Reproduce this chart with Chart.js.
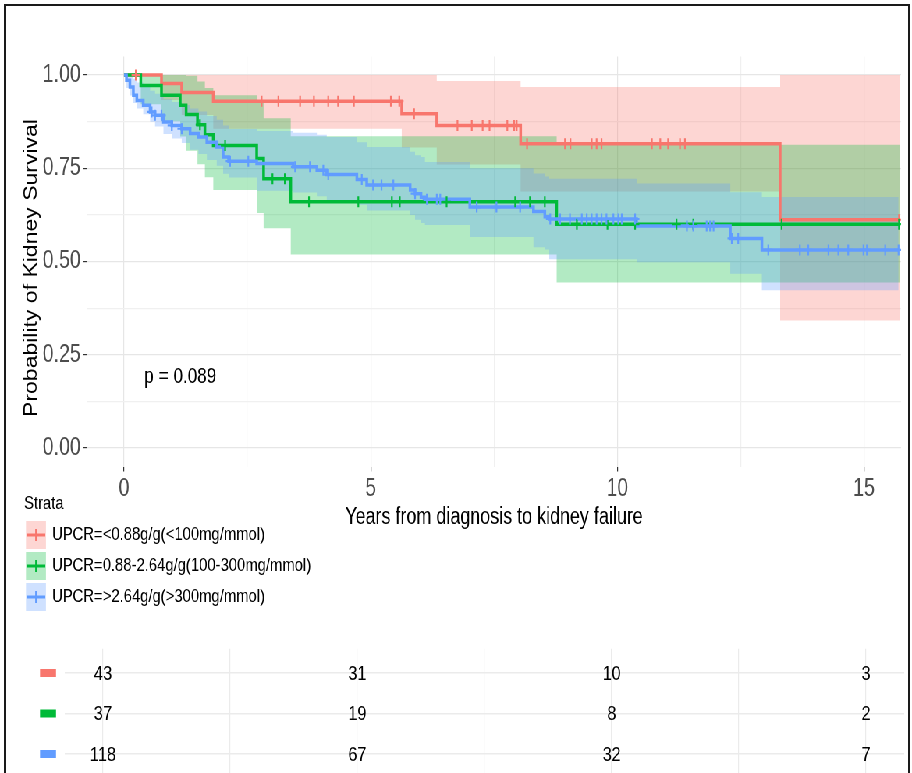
<!DOCTYPE html>
<html><head><meta charset="utf-8">
<script src="https://cdn.jsdelivr.net/npm/chart.js@4.4.1/dist/chart.umd.min.js"></script>
<style>
html,body{margin:0;padding:0;background:#fff;overflow:hidden;width:912px;height:773px;}
#wrap{position:absolute;left:0;top:0;width:1169px;height:773px;transform:scaleX(0.780154);transform-origin:0 0;}
#main{position:absolute;left:0;top:0;}
#risk{position:absolute;left:0;top:612px;}
#frame{position:absolute;left:4px;top:4px;width:902px;height:900px;border:2px solid #1a1a1a;pointer-events:none;}
</style></head><body>
<div id="wrap"><canvas id="main" width="1169" height="612"></canvas><canvas id="risk" width="1169" height="180"></canvas></div>
<div id="frame"></div>
<script>
// ---------------- DATA ----------------
const strata = ['UPCR=<0.88g/g(<100mg/mmol)', 'UPCR=0.88-2.64g/g(100-300mg/mmol)', 'UPCR=>2.64g/g(>300mg/mmol)'];
const legendTitle = 'Strata';
const xTitle = 'Years from diagnosis to kidney failure';
const yTitle = 'Probability of Kidney Survival';
const pValueText = 'p = 0.089';
const pValuePos = [0.41, 0.19];
const xTicks = [0, 2.5, 5, 7.5, 10, 12.5, 15];
const yTicks = [0, 0.125, 0.25, 0.375, 0.5, 0.625, 0.75, 0.875, 1];

// red stratum (<0.88 g/g)
const redT  = [0, 0.76, 1.17, 1.81, 5.63, 6.34, 8.04, 13.30, 15.72];
const redS  = [1, 0.977, 0.953, 0.930, 0.896, 0.865, 0.816, 0.612, 0.612];
const redUp = [1, 1, 1, 1, 1, 0.984, 0.968, 1, 1];
const redLo = [1, 0.933, 0.893, 0.856, 0.806, 0.760, 0.688, 0.342, 0.342];
const redCens = [0.24, 2.79, 3.13, 3.57, 3.85, 4.14, 4.34, 4.66, 5.41, 5.58, 5.88, 6.76, 7.05, 7.27, 7.41, 7.77, 7.91, 7.96, 8.17, 8.94, 9.05, 9.48, 9.58, 9.68, 10.70, 10.87, 11.03, 11.27, 11.37, 15.71];

// green stratum (0.88-2.64 g/g)
const greenT  = [0, 0.34, 0.76, 1.14, 1.26, 1.49, 1.64, 1.81, 2.69, 2.83, 3.38, 8.77, 15.72];
const greenS  = [1, 0.972, 0.946, 0.919, 0.894, 0.867, 0.840, 0.811, 0.776, 0.722, 0.660, 0.600, 0.600];
const greenUp = [1, 1, 1, 1, 0.998, 0.983, 0.965, 0.946, 0.927, 0.884, 0.836, 0.813, 0.813];
const greenLo = [1, 0.922, 0.876, 0.835, 0.797, 0.761, 0.726, 0.692, 0.630, 0.589, 0.519, 0.444, 0.444];
const greenCens = [1.54, 2.05, 3.01, 3.26, 3.75, 4.75, 5.43, 5.59, 6.54, 7.93, 8.23, 8.53, 9.18, 9.80, 10.36, 11.20, 11.54, 13.33, 15.71];

// blue stratum (>2.64 g/g)
const blueT  = [0, 0.05, 0.12, 0.19, 0.26, 0.39, 0.53, 0.63, 0.80, 0.97, 1.17, 1.34, 1.51, 1.68, 1.88, 2.01, 2.12, 2.69, 3.43, 3.91, 4.11, 4.72, 4.92, 5.80, 5.90, 6.02, 6.10, 7.01, 8.30, 8.53, 8.62, 10.39, 12.29, 12.93, 15.70];
const blueS  = [1, 0.986, 0.968, 0.946, 0.932, 0.919, 0.901, 0.892, 0.874, 0.865, 0.856, 0.843, 0.834, 0.820, 0.807, 0.780, 0.769, 0.763, 0.754, 0.745, 0.733, 0.720, 0.705, 0.692, 0.682, 0.672, 0.667, 0.646, 0.634, 0.620, 0.614, 0.595, 0.562, 0.531, 0.531];
const blueUp = [1, 1, 1, 0.99, 0.98, 0.972, 0.958, 0.95, 0.935, 0.928, 0.92, 0.91, 0.902, 0.89, 0.88, 0.865, 0.855, 0.85, 0.845, 0.84, 0.834, 0.82, 0.807, 0.794, 0.785, 0.78, 0.767, 0.75, 0.736, 0.728, 0.722, 0.709, 0.686, 0.673, 0.673];
const blueLo = [1, 0.965, 0.945, 0.925, 0.91, 0.895, 0.875, 0.862, 0.842, 0.83, 0.818, 0.80, 0.788, 0.772, 0.757, 0.735, 0.725, 0.69, 0.685, 0.675, 0.665, 0.652, 0.637, 0.625, 0.612, 0.603, 0.598, 0.566, 0.538, 0.532, 0.506, 0.498, 0.467, 0.423, 0.423];
const blueCens = [0.56, 0.63, 0.76, 0.97, 1.17, 2.15, 2.52, 3.47, 3.77, 4.04, 4.14, 4.82, 5.05, 5.22, 5.46, 5.90, 6.14, 6.34, 6.41, 7.15, 7.55, 8.03, 8.64, 8.84, 9.04, 9.28, 9.38, 9.48, 9.58, 9.68, 9.78, 9.92, 10.02, 10.09, 10.36, 11.41, 11.54, 11.81, 11.88, 11.95, 12.32, 12.45, 13.06, 13.70, 13.87, 14.28, 14.48, 14.68, 14.99, 15.06, 15.43, 15.70];

// number at risk
const riskTimes = [0, 5, 10, 15];
const riskRed   = [43, 31, 10, 3];
const riskGreen = [37, 19, 8, 2];
const riskBlue  = [118, 67, 32, 7];

// ---------------- STYLE ----------------
const FAM = "'Liberation Sans', Arial, Helvetica, sans-serif";
const RED = '#F8766D', GREEN = '#00BA38', BLUE = '#619CFF';
const RED_F = 'rgba(248,118,109,0.3)', GREEN_F = 'rgba(0,186,56,0.3)', BLUE_F = 'rgba(97,156,255,0.3)';
const colors = [RED, GREEN, BLUE], fills = [RED_F, GREEN_F, BLUE_F];
Chart.defaults.font.family = FAM;

const toPts = (T, V) => T.map((t, i) => ({x: t, y: V[i]}));
function survAt(T, S, t) { let v = S[0]; for (let i = 0; i < T.length; i++) { if (T[i] <= t) v = S[i]; } return v; }
const lineDs = (T, S, c) => ({data: toPts(T, S), borderColor: c, backgroundColor: c, borderWidth: 3.5, pointRadius: 0, stepped: 'before', fill: false});
const censDs = (C, T, S, c) => ({data: C.map(t => ({x: t, y: survAt(T, S, t)})), showLine: false, pointStyle: 'cross', pointRadius: 5.5, pointBorderWidth: 2.2, borderColor: c, pointBorderColor: c, backgroundColor: c});
const bandUp = (T, U) => ({data: toPts(T, U), borderWidth: 0, pointRadius: 0, stepped: 'before', fill: false});
const bandLo = (T, L, f) => ({data: toPts(T, L), borderWidth: 0, pointRadius: 0, stepped: 'before', fill: '-1', backgroundColor: f});

const isMajorX = v => Math.abs(v / 5 - Math.round(v / 5)) < 1e-9;
const isMajorY = v => Math.abs(v * 4 - Math.round(v * 4)) < 1e-9;

const annotPlugin = {
  id: 'annot',
  afterDraw(chart) {
    const ctx = chart.ctx, xs = chart.scales.x, ys = chart.scales.y;
    ctx.save();
    ctx.fillStyle = '#000';
    ctx.textBaseline = 'middle';
    ctx.textAlign = 'left';
    ctx.font = `22px ${FAM}`;
    ctx.fillText(pValueText, xs.getPixelForValue(pValuePos[0]), ys.getPixelForValue(pValuePos[1]));
    // y axis title
    ctx.save();
    ctx.translate(41, 268);
    ctx.rotate(-Math.PI / 2);
    ctx.textAlign = 'center';
    ctx.font = `23px ${FAM}`;
    ctx.fillText(yTitle, 0, 0);
    ctx.restore();
    // legend
    ctx.font = `19px ${FAM}`;
    ctx.fillText(legendTitle, 30.8, 504);
    const centers = [535, 566, 597];
    strata.forEach((s, i) => {
      const c = centers[i];
      ctx.fillStyle = fills[i];
      ctx.fillRect(33.3, c - 14, 25.6, 28);
      ctx.strokeStyle = colors[i];
      ctx.lineWidth = 3;
      ctx.beginPath(); ctx.moveTo(35, c); ctx.lineTo(58, c); ctx.stroke();
      ctx.lineWidth = 2;
      ctx.beginPath(); ctx.moveTo(46.1, c - 6); ctx.lineTo(46.1, c + 6); ctx.stroke();
      ctx.fillStyle = '#000';
      ctx.fillText(s, 66.7, c);
    });
    ctx.restore();
  }
};

new Chart(document.getElementById('main'), {
  type: 'line',
  data: {
    datasets: [
      censDs(blueCens, blueT, blueS, BLUE),
      censDs(greenCens, greenT, greenS, GREEN),
      censDs(redCens, redT, redS, RED),
      lineDs(blueT, blueS, BLUE),
      lineDs(greenT, greenS, GREEN),
      lineDs(redT, redS, RED),
      bandUp(blueT, blueUp), bandLo(blueT, blueLo, BLUE_F),
      bandUp(greenT, greenUp), bandLo(greenT, greenLo, GREEN_F),
      bandUp(redT, redUp), bandLo(redT, redLo, RED_F)
    ]
  },
  options: {
    responsive: false, animation: false, devicePixelRatio: 1,
    layout: {padding: {left: 0, top: 56.4, right: 14.1, bottom: 75.4}},
    plugins: {legend: {display: false}, tooltip: {enabled: false}, filler: {drawTime: 'beforeDatasetsDraw', propagate: false}},
    scales: {
      x: {
        type: 'linear', min: -0.75, max: 15.75,
        afterBuildTicks: s => { s.ticks = xTicks.map(v => ({value: v})); },
        afterFit: s => { s.height = 70; },
        border: {display: false},
        grid: {
          color: c => (c.tick && isMajorX(c.tick.value)) ? '#e6e6e6' : '#f0f0f0',
          lineWidth: 1.2, tickLength: 5,
          tickColor: c => (c.tick && isMajorX(c.tick.value)) ? '#333333' : 'rgba(0,0,0,0)'
        },
        ticks: {autoSkip: false, maxRotation: 0, padding: 3, color: '#4d4d4d', font: {size: 25},
          callback: v => isMajorX(v) ? String(v) : ''},
        title: {display: true, text: xTitle, color: '#000', font: {size: 23}, padding: {top: 0, bottom: 4.8}}
      },
      y: {
        type: 'linear', min: -0.05, max: 1.05,
        afterBuildTicks: s => { s.ticks = yTicks.map(v => ({value: v})); },
        afterFit: s => { s.width = 111.5; },
        border: {display: false},
        grid: {
          color: c => (c.tick && isMajorY(c.tick.value)) ? '#e6e6e6' : '#f0f0f0',
          lineWidth: 1.2, tickLength: 5,
          tickColor: c => (c.tick && isMajorY(c.tick.value)) ? '#333333' : 'rgba(0,0,0,0)'
        },
        ticks: {autoSkip: false, padding: 3, color: '#4d4d4d', font: {size: 25},
          callback: v => isMajorY(v) ? v.toFixed(2) : ''},
        title: {display: false}
      }
    }
  },
  plugins: [annotPlugin]
});

// ---------------- RISK TABLE ----------------
const riskRows = [riskRed, riskGreen, riskBlue];
const riskPlugin = {
  id: 'riskText',
  afterDraw(chart) {
    const ctx = chart.ctx, xs = chart.scales.x, ys = chart.scales.y;
    ctx.save();
    ctx.textAlign = 'center';
    ctx.textBaseline = 'middle';
    ctx.font = `21px ${FAM}`;
    riskRows.forEach((row, i) => {
      const y = ys.getPixelForValue(i);
      ctx.fillStyle = colors[i];
      ctx.fillRect(51.3, y - 4, 20.5, 8);
      ctx.fillStyle = '#000';
      row.forEach((n, j) => ctx.fillText(String(n), xs.getPixelForValue(riskTimes[j]), y + 1));
    });
    ctx.restore();
  }
};
new Chart(document.getElementById('risk'), {
  type: 'line',
  data: {datasets: []},
  options: {
    responsive: false, animation: false, devicePixelRatio: 1,
    layout: {padding: {left: 0, top: 36.7, right: 10, bottom: 13.7}},
    plugins: {legend: {display: false}, tooltip: {enabled: false}},
    scales: {
      x: {type: 'linear', min: -0.75, max: 15.75,
        afterBuildTicks: s => { s.ticks = xTicks.map(v => ({value: v})); },
        afterFit: s => { s.height = 0; },
        ticks: {display: false}, border: {display: false},
        grid: {color: '#ebebeb', lineWidth: 1.2, drawTicks: false}},
      y: {type: 'linear', reverse: true, min: -0.6, max: 2.6,
        afterBuildTicks: s => { s.ticks = [0, 1, 2].map(v => ({value: v})); },
        afterFit: s => { s.width = 83.1; },
        ticks: {display: false}, border: {display: false},
        grid: {color: '#ebebeb', lineWidth: 1.5, drawTicks: false}}
    }
  },
  plugins: [riskPlugin]
});
</script>
</body></html>
